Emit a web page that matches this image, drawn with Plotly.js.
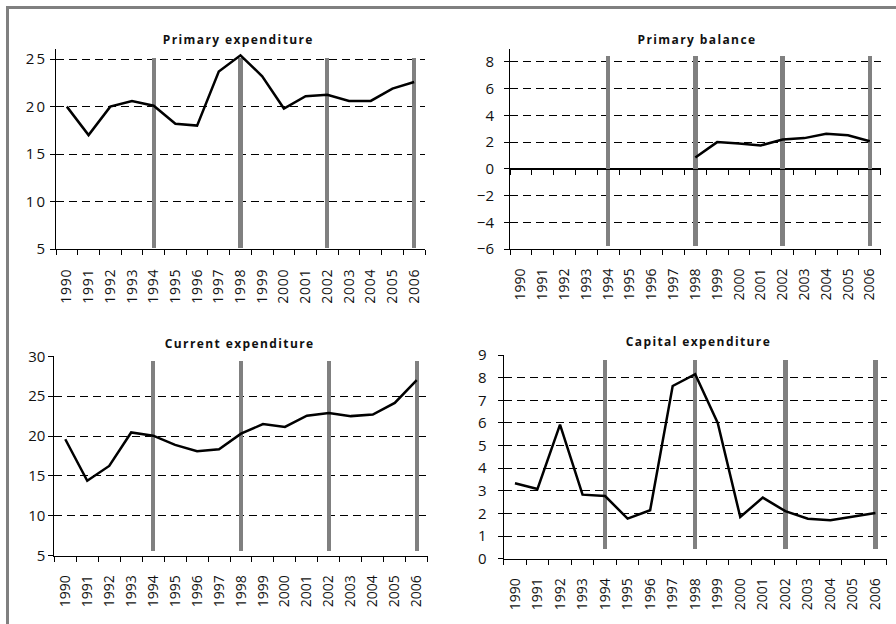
<!DOCTYPE html>
<html>
<head>
<meta charset="utf-8">
<script src="https://cdn.plot.ly/plotly-3.0.1.min.js"></script>
<style>
html,body{margin:0;padding:0;background:#fff;}
#chart{width:896px;height:624px;}
#chart .annotation-text{letter-spacing:1.4px;}
#chart .xtick text{letter-spacing:0.8px;}
#chart .ytick text{letter-spacing:2px;}
</style>
</head>
<body>
<div id="chart"></div>
<script>
// ---- data ----
const years = ['1990','1991','1992','1993','1994','1995','1996','1997','1998','1999','2000','2001','2002','2003','2004','2005','2006'];
const markerYears = ['1994','1998','2002','2006'];

const titles = ['Primary expenditure','Primary balance','Current expenditure','Capital expenditure'];

const primaryExpenditure = [20.0,17.0,20.0,20.6,20.1,18.2,18.0,23.7,25.4,23.2,19.8,21.1,21.25,20.6,20.6,21.9,22.6];
const primaryBalance = [null,null,null,null,null,null,null,null,0.85,2.0,1.9,1.75,2.2,2.3,2.62,2.52,2.07];
const currentExpenditure = [19.6,14.4,16.25,20.45,20.05,18.9,18.1,18.35,20.3,21.5,21.15,22.55,22.9,22.5,22.7,24.15,27.0];
const capitalExpenditure = [3.33,3.08,5.92,2.83,2.77,1.77,2.14,7.63,8.15,6.0,1.84,2.7,2.1,1.77,1.7,1.86,2.02];

// vertical grey bars: [bottom, top] in each panel's units
const barRange1 = [5.1, 25.15];
const barRange2 = [-5.75, 8.45];
const barRange3 = [5.6, 29.4];
const barRange4 = [0.42, 8.8];

const yTicks1 = [5,10,15,20,25];
const yTicks2 = [-6,-4,-2,0,2,4,6,8];
const yTicks3 = [5,10,15,20,25,30];
const yTicks4 = [0,1,2,3,4,5,6,7,8,9];

// ---- layout geometry (pixels) ----
const W = 896, H = 624;
const fx = p => p / W;
const fy = p => 1 - p / H;

const panels = [
  {vals: primaryExpenditure, bar: barRange1, ticks: yTicks1, range: [5, 26.05], xd: [56, 425], yd: [249, 49.2], title: [238, 39], ystand: 0},
  {vals: primaryBalance, bar: barRange2, ticks: yTicks2, range: [-6, 9], xd: [510, 880.7], yd: [249, 48.6], title: [697, 39], ystand: 7},
  {vals: currentExpenditure, bar: barRange3, ticks: yTicks3, range: [5, 30], xd: [54.3, 427.7], yd: [555.7, 356.3], title: [239, 343.5], ystand: 0},
  {vals: capitalExpenditure, bar: barRange4, ticks: yTicks4, range: [0, 9], xd: [503.7, 886.7], yd: [558.7, 355], title: [698, 341.5], ystand: 8}
];

const FONT = 'Open Sans, Liberation Sans, sans-serif';
const traces = [];
const layout = {
  width: W, height: H,
  margin: {l: 0, r: 0, t: 0, b: 0},
  paper_bgcolor: '#ffffff', plot_bgcolor: 'rgba(0,0,0,0)',
  showlegend: false,
  bargap: 0,
  font: {family: FONT, color: '#111'},
  annotations: [],
  shapes: [{
    type: 'rect', xref: 'paper', yref: 'paper',
    x0: fx(7.5), x1: 1.2, y0: -0.2, y1: fy(7.5),
    line: {color: '#808080', width: 3}, fillcolor: 'rgba(0,0,0,0)'
  }]
};

panels.forEach((p, i) => {
  const n = i + 1;
  const xa = 'x' + n, ya = 'y' + n;
  traces.push({
    type: 'bar', x: markerYears, base: markerYears.map(() => p.bar[0]),
    y: markerYears.map(() => p.bar[1] - p.bar[0]),
    width: 0.2, marker: {color: '#808080', line: {width: 0}},
    xaxis: xa, yaxis: ya, hoverinfo: 'skip'
  });
  traces.push({
    type: 'scatter', mode: 'lines', x: years, y: p.vals,
    line: {color: '#000', width: 2.5}, connectgaps: false,
    xaxis: xa, yaxis: ya, hoverinfo: 'skip'
  });
  layout['xaxis' + n] = {
    domain: [fx(p.xd[0]), fx(p.xd[1])], anchor: ya,
    type: 'category', categoryorder: 'array', categoryarray: years,
    range: [-0.5, 16.5], tickson: 'boundaries',
    ticks: 'outside', ticklen: 5, tickcolor: '#000', tickwidth: 1,
    showline: true, linecolor: '#000', linewidth: 1,
    showgrid: false, zeroline: false, tickangle: -90,
    ticklabelstandoff: 13,
    tickfont: {family: FONT, size: 14, color: '#111'}
  };
  layout['yaxis' + n] = {
    domain: [fy(p.yd[0]), fy(p.yd[1])], anchor: xa,
    range: p.range, tickmode: 'array', tickvals: p.ticks,
    ticks: 'outside', ticklen: 5, tickcolor: '#000', tickwidth: 1,
    showline: true, linecolor: '#000', linewidth: 1,
    showgrid: true, gridcolor: '#000', gridwidth: 1, griddash: '8px,5px',
    zeroline: n === 2, zerolinecolor: '#000', zerolinewidth: 1.5,
    ticklabelstandoff: p.ystand,
    tickfont: {family: FONT, size: 15, color: '#111'}
  };
  layout.annotations.push({
    xref: 'paper', yref: 'paper', x: fx(p.title[0]), y: fy(p.title[1]),
    xanchor: 'center', yanchor: 'middle', showarrow: false,
    text: '<b>' + titles[i] + '</b>',
    font: {family: FONT, size: 12, color: '#111'}
  });
});

// tick marks along the zero line in the Primary balance panel
const p2 = panels[1];
const d2 = [fy(p2.yd[0]), fy(p2.yd[1])];
const zeroPos = d2[0] + (0 - p2.range[0]) / (p2.range[1] - p2.range[0]) * (d2[1] - d2[0]);
layout.xaxis5 = {
  domain: [fx(p2.xd[0]), fx(p2.xd[1])], anchor: 'free', position: zeroPos, overlaying: 'x2',
  type: 'category', categoryorder: 'array', categoryarray: years,
  range: [-0.5, 16.5], tickson: 'boundaries',
  ticks: 'outside', ticklen: 5, tickcolor: '#000', tickwidth: 1,
  showline: true, linecolor: '#000', linewidth: 1.5,
  showgrid: false, zeroline: false, showticklabels: false
};
traces.push({type: 'scatter', mode: 'lines', x: years, y: years.map(() => null), xaxis: 'x5', yaxis: 'y2', hoverinfo: 'skip', showlegend: false});

Plotly.newPlot('chart', traces, layout, {displayModeBar: false, staticPlot: true});
</script>
</body>
</html>
